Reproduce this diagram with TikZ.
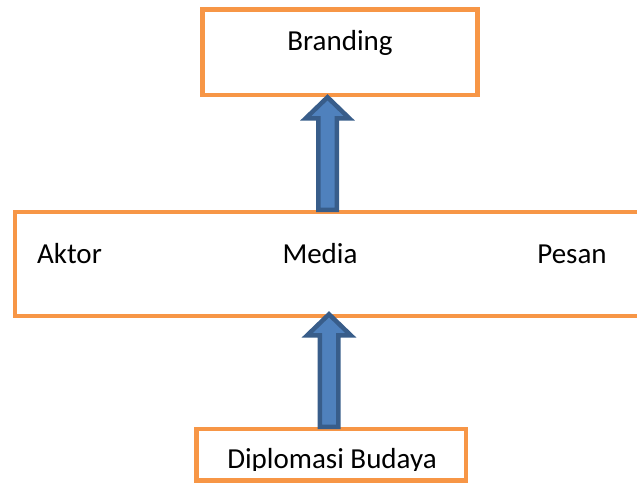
\documentclass[tikz,border=0pt]{standalone}
\usepackage{fontspec}
\setmainfont{Carlito}
\usepackage{tikz}
\usetikzlibrary{calc}
\definecolor{kotak}{RGB}{247,150,70}
\definecolor{panahisi}{RGB}{79,129,189}
\definecolor{panahtepi}{RGB}{56,93,138}
\tikzset{
  kotak/.style={draw=kotak,line width=4.5pt,fill=white,rectangle,inner sep=0pt},
  tulisan/.style={anchor=base,inner sep=0pt,font=\fontsize{29}{34}\selectfont},
  panah/.style={fill=panahisi,draw=panahtepi,line width=4.5pt,miter limit=4}
}
% panah blok ke atas: x, pangkal, ujung
\newcommand{\panahblok}[3]{%
  \draw[panah] let \p1=(#1,0 |- #2), \p2=(#1,0 |- #3) in
    ({\x1-9.25pt},\y1)--({\x1-9.25pt},{\y2-21pt})--({\x1-21.75pt},{\y2-21pt})--(\x1,\y2)
    --({\x1+21.75pt},{\y2-21pt})--({\x1+9.25pt},{\y2-21pt})--({\x1+9.25pt},\y1)--cycle;}

\begin{document}
\begin{tikzpicture}[x=1pt,y=-1pt]
\useasboundingbox (0,0) rectangle (637,483);
\clip (0,0) rectangle (637,483);
%\draw[help lines,step=50](0,0)grid(637,483);
\node[kotak,minimum width=275,minimum height=85.5] (brand) at (340,52.25) {};
\node[kotak,minimum width=645,minimum height=104] (tengah) at (337.5,264) {};
\node[kotak,minimum width=269.5,minimum height=51.5] (diplo) at (331.25,454.75) {};
\node[tulisan] (tbrand) at (340,50) {Branding};
\node[tulisan,anchor=base west] (aktor) at (37,263) {Aktor};
\node[tulisan] (media) at (320,263) {Media};
\node[tulisan] (pesan) at (572,263) {Pesan};
\begin{scope}
\clip (diplo.north west) rectangle (466,470);
\node[tulisan] (tdiplo) at (332,468.5) {Diplomasi Budaya};
\end{scope}
\coordinate (ujung) at ([yshift=4pt]tengah.south);
\panahblok{327.5}{tengah.north}{brand.south}
\panahblok{329}{diplo.north}{ujung}
\end{tikzpicture}
\end{document}
